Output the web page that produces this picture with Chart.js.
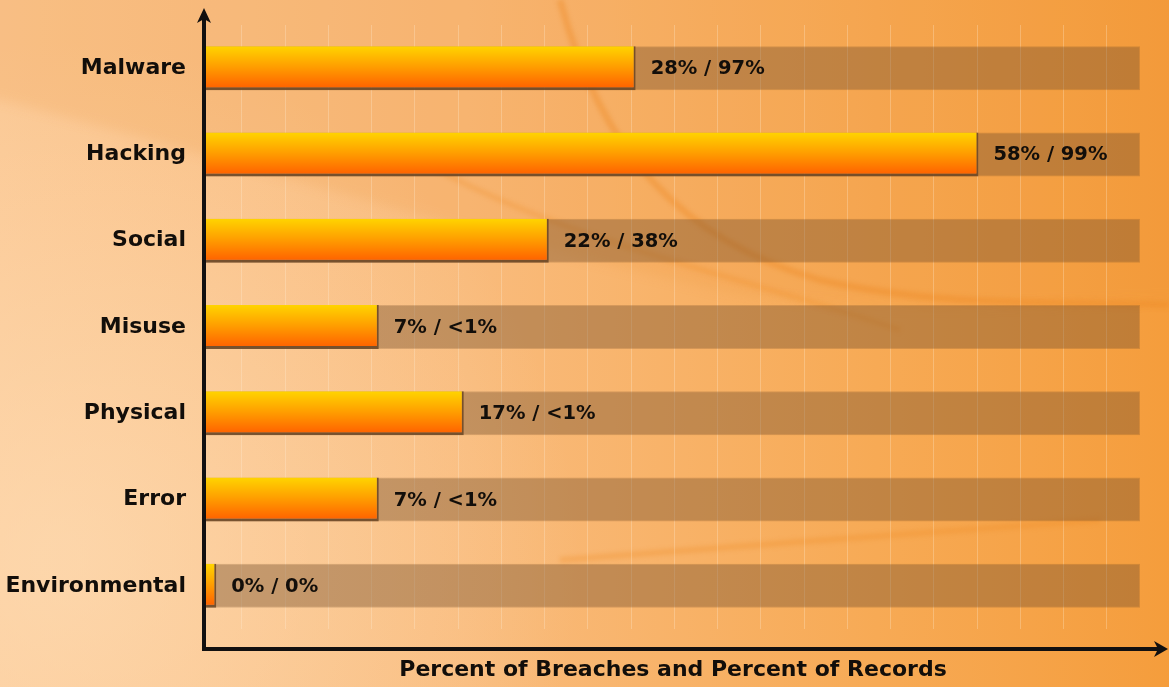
<!DOCTYPE html>
<html>
<head>
<meta charset="utf-8">
<script src="https://cdn.jsdelivr.net/npm/chart.js@4"></script>
<style>
  html, body { margin: 0; padding: 0; background: #f8b772; }
  #wrap { width: 1169px; height: 687px; position: relative; }
</style>
</head>
<body>
<div id="wrap"><canvas id="myChart"></canvas></div>
<script>
// categories and labels as printed in the picture
const categories = ['Malware', 'Hacking', 'Social', 'Misuse', 'Physical', 'Error', 'Environmental'];
const breaches = ['28%', '58%', '22%', '7%', '17%', '7%', '0%'];
const records = ['97%', '99%', '38%', '<1%', '<1%', '<1%', '0%'];
// drawn bar length, as a share of the full grey track
const barLength = [46.0, 82.7, 36.7, 18.5, 27.6, 18.5, 1.1];
const trackFull = [100, 100, 100, 100, 100, 100, 100];

const FONT = "'DejaVu Sans', Verdana, sans-serif";
const CAT_PCT = 0.51;

// orange bar: yellow at top, red-orange at bottom
function barGradient(ctx) {
  const chart = ctx.chart;
  const ys = chart.scales.y;
  if (!ys || ctx.dataIndex === undefined) return '#ff9a00';
  const c = ys.getPixelForValue(ctx.dataIndex);
  const half = Math.abs(ys.getPixelForValue(1) - ys.getPixelForValue(0)) * CAT_PCT / 2;
  if (!isFinite(c) || !isFinite(half) || half <= 0) return '#ff9a00';
  const g = chart.ctx.createLinearGradient(0, c - half, 0, c + half);
  g.addColorStop(0, '#ffd400');
  g.addColorStop(0.45, '#ffa000');
  g.addColorStop(1, '#ff5c00');
  return g;
}

// background with the soft swooshes
const backdrop = {
  id: 'backdrop',
  beforeDraw(chart) {
    const { ctx, width, height } = chart;
    ctx.save();
    let g = ctx.createLinearGradient(0, 0, width, 0);
    g.addColorStop(0, '#fbc894');
    g.addColorStop(0.4, '#f9bb7c');
    g.addColorStop(0.75, '#f7aa55');
    g.addColorStop(1, '#f59d3c');
    ctx.fillStyle = g;
    ctx.fillRect(0, 0, width, height);

    // pale glow lower left
    const r = ctx.createRadialGradient(60, 560, 20, 60, 560, 520);
    r.addColorStop(0, 'rgba(255,226,190,0.55)');
    r.addColorStop(1, 'rgba(255,226,190,0)');
    ctx.fillStyle = r;
    ctx.fillRect(0, 0, width, height);

    // darker band across the top left
    ctx.filter = 'blur(6px)';
    ctx.globalAlpha = 0.16;
    ctx.fillStyle = '#ef8f30';
    ctx.beginPath();
    ctx.moveTo(-20, -20);
    ctx.lineTo(-20, 95);
    ctx.bezierCurveTo(200, 150, 450, 230, 720, 290);
    ctx.bezierCurveTo(900, 320, 1050, 300, 1190, 300);
    ctx.lineTo(1190, -20);
    ctx.closePath();
    ctx.fill();

    // thin curved streaks
    ctx.filter = 'blur(2px)';
    ctx.globalAlpha = 0.4;
    ctx.strokeStyle = '#ee8a25';
    ctx.lineWidth = 7;
    ctx.beginPath();
    ctx.moveTo(560, 0);
    ctx.bezierCurveTo(600, 150, 680, 240, 820, 280);
    ctx.bezierCurveTo(950, 310, 1080, 300, 1169, 305);
    ctx.stroke();
    ctx.lineWidth = 6;
    ctx.globalAlpha = 0.25;
    ctx.beginPath();
    ctx.moveTo(420, 160);
    ctx.bezierCurveTo(560, 240, 720, 270, 900, 330);
    ctx.stroke();
    ctx.globalAlpha = 0.3;
    ctx.beginPath();
    ctx.moveTo(560, 560);
    ctx.bezierCurveTo(750, 545, 900, 535, 1100, 520);
    ctx.stroke();
    ctx.restore();
  }
};

// black axes with arrow heads and the value labels
const axesAndLabels = {
  id: 'axesAndLabels',
  afterDraw(chart) {
    const { ctx, chartArea } = chart;
    const L = chartArea.left - 2;
    const B = chartArea.bottom + 20;
    const R = chart.width - 1;
    ctx.save();
    ctx.strokeStyle = '#121010';
    ctx.fillStyle = '#121010';
    ctx.lineWidth = 4;
    ctx.beginPath();
    ctx.moveTo(L, chartArea.top - 10);
    ctx.lineTo(L, B);
    ctx.lineTo(R - 6, B);
    ctx.stroke();
    // up arrow
    ctx.beginPath();
    ctx.moveTo(L, chartArea.top - 17);
    ctx.lineTo(L + 7, chartArea.top - 2);
    ctx.lineTo(L, chartArea.top - 6);
    ctx.lineTo(L - 7, chartArea.top - 2);
    ctx.closePath();
    ctx.fill();
    // right arrow
    ctx.beginPath();
    ctx.moveTo(R, B);
    ctx.lineTo(R - 14, B - 8);
    ctx.lineTo(R - 10, B);
    ctx.lineTo(R - 14, B + 8);
    ctx.closePath();
    ctx.fill();

    ctx.font = 'bold 19.5px ' + FONT;
    ctx.textBaseline = 'middle';
    ctx.textAlign = 'left';
    ctx.fillStyle = '#120e0a';
    const meta = chart.getDatasetMeta(0);
    meta.data.forEach((bar, i) => {
      ctx.fillText(breaches[i] + ' / ' + records[i], bar.x + 15, bar.y + 1);
    });
    ctx.restore();
  }
};

const barchartData = {
  labels: categories,
  datasets: [{
    data: barLength,
    backgroundColor: barGradient,
    borderColor: 'rgba(105,68,35,0.85)',
    borderWidth: { top: 0, right: 2, bottom: 3, left: 0 },
    borderSkipped: false,
    grouped: false,
    barPercentage: 1,
    categoryPercentage: CAT_PCT
  }, {
    data: trackFull,
    backgroundColor: 'rgba(120,82,45,0.42)',
    borderColor: 'rgba(110,70,35,0.25)',
    borderWidth: 1,
    borderSkipped: false,
    grouped: false,
    barPercentage: 1,
    categoryPercentage: CAT_PCT
  }]
};

const barchartconfig = {
  type: 'bar',
  data: barchartData,
  plugins: [backdrop, axesAndLabels],
  options: {
    indexAxis: 'y',
    responsive: true,
    maintainAspectRatio: false,
    animation: false,
    layout: { padding: { top: 25, right: 29, bottom: 0, left: 0 } },
    plugins: { legend: { display: false }, tooltip: { enabled: false } },
    scales: {
      x: {
        min: 0,
        max: 100,
        z: 1,
        afterBuildTicks: s => {
          // faint vertical guide lines of the original slide
          const t = [];
          for (let v = 3.85; v < 100; v += 4.63) t.push({ value: v });
          s.ticks = t;
        },
        ticks: { display: false },
        grid: { color: 'rgba(255,240,220,0.28)', lineWidth: 1, drawTicks: false },
        border: { display: false },
        title: {
          display: true,
          text: 'Percent of Breaches and Percent of Records',
          color: '#120e0a',
          font: { family: FONT, size: 22, weight: 'bold' },
          padding: { top: 27.8, bottom: 3.8 }
        }
      },
      y: {
        afterFit: s => {
          s.width = 206;
          s.paddingTop = 0;
          s.paddingBottom = 0;
        },
        grid: { display: false, drawTicks: false },
        border: { display: false },
        ticks: {
          color: '#120e0a',
          padding: 20,
          font: { family: FONT, size: 22, weight: 'bold' }
        }
      }
    }
  }
};

new Chart('myChart', barchartconfig);
</script>
</body>
</html>
